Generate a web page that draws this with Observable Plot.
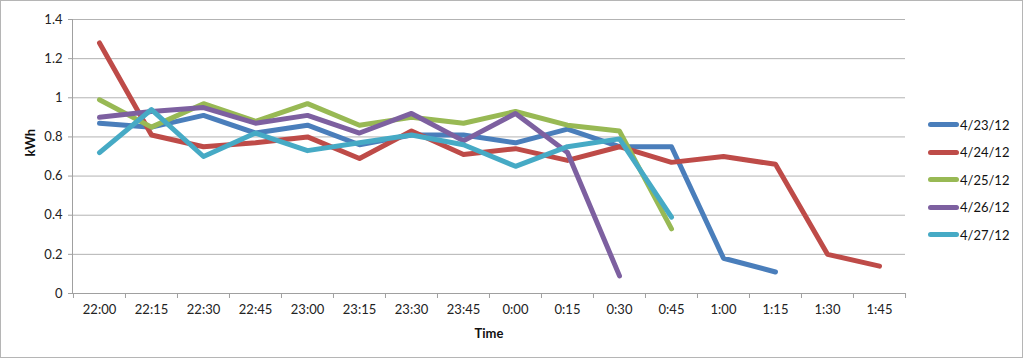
<!DOCTYPE html>
<html>
<head>
<meta charset="utf-8">
<script src="https://cdn.jsdelivr.net/npm/d3@7"></script>
<script src="https://cdn.jsdelivr.net/npm/@observablehq/plot@0.6"></script>
<style>
  body { margin: 0; background: #fff; }
  #wrap { position: relative; width: 1024px; height: 359px; font-family: Lato, "Open Sans", sans-serif; overflow: hidden; }
  #wrap svg { position: absolute; left: 0; top: 0; }
  #frame { position: absolute; left: 0; top: 0; width: 1021px; height: 356px; border: 1px solid #b5b5b5; pointer-events: none; }
  #legend { position: absolute; left: 928px; top: 111px; font-size: 13px; color: #111; }
  .item { display: flex; align-items: center; height: 27.5px; }
  .sw { width: 31px; height: 5px; border-radius: 3px; margin-right: 1px; }
</style>
</head>
<body>
<div id="wrap"><div id="frame"></div><div id="legend"></div></div>
<script>
const times = ["22:00","22:15","22:30","22:45","23:00","23:15","23:30","23:45","0:00","0:15","0:30","0:45","1:00","1:15","1:30","1:45"];
const seriesNames = ["4/23/12","4/24/12","4/25/12","4/26/12","4/27/12"];
const kwh0423 = [0.87,0.85,0.91,0.82,0.86,0.76,0.81,0.81,0.77,0.84,0.75,0.75,0.18,0.11];
const kwh0424 = [1.28,0.81,0.75,0.77,0.80,0.69,0.83,0.71,0.74,0.68,0.75,0.67,0.70,0.66,0.20,0.14];
const kwh0425 = [0.99,0.85,0.97,0.88,0.97,0.86,0.90,0.87,0.93,0.86,0.83,0.33];
const kwh0426 = [0.90,0.93,0.95,0.87,0.91,0.82,0.92,0.78,0.92,0.72,0.09];
const kwh0427 = [0.72,0.94,0.70,0.82,0.73,0.77,0.81,0.76,0.65,0.75,0.79,0.39];
const yTicks = [0,0.2,0.4,0.6,0.8,1,1.2,1.4];
const colors = ["#4a7ebb","#be4b48","#98b954","#7d60a0","#46aac5"];

const seriesValues = [kwh0423,kwh0424,kwh0425,kwh0426,kwh0427];
const rows = seriesNames.flatMap((name, i) => seriesValues[i].map((v, j) => ({time: times[j], kwh: v, series: name})));

const W = 1024, H = 359, ML = 72, MR = 119, MT = 19, MB = 66;
const step = (W - ML - MR) / times.length;

const plot = Plot.plot({
  width: W, height: H,
  marginLeft: ML, marginRight: MR, marginTop: MT, marginBottom: MB,
  style: {fontFamily: "Lato, 'Open Sans', sans-serif", fontSize: "13px", color: "#222", background: "transparent"},
  x: {type: "point", domain: times, padding: 0.5, label: null},
  y: {domain: [0, 1.4], label: null},
  color: {domain: seriesNames, range: colors},
  marks: [
    Plot.gridY(yTicks, {stroke: "#b3b3b3", strokeOpacity: 1}),
    Plot.frame({anchor: "left", stroke: "#a0a0a0"}),
    Plot.ruleY([0], {stroke: "#a0a0a0"}),
    Plot.axisY(yTicks, {tickFormat: d => String(d), tickSize: 4, tickPadding: 6, stroke: "#a0a0a0", fill: "#222", fontSize: 13, label: null}),
    Plot.axisX({tickSize: 0, tickPadding: 11, fill: "#222", fontSize: 13, label: null}),
    Plot.axisX(times, {tickSize: 5, tickFormat: null, dx: -step / 2, stroke: "#a0a0a0", label: null}),
    Plot.axisX([times[times.length - 1]], {tickSize: 5, tickFormat: null, dx: step / 2, stroke: "#a0a0a0", label: null}),
    Plot.line(rows, {x: "time", y: "kwh", z: "series", stroke: "series", strokeWidth: 5, strokeLinejoin: "round", strokeLinecap: "round"}),
    Plot.text(["Time"], {frameAnchor: "bottom", dy: 44, fontWeight: "bold", fontSize: 13, fill: "#111"}),
    Plot.text(["kWh"], {frameAnchor: "left", dx: -42, rotate: -90, fontWeight: "bold", fontSize: 13, fill: "#111"})
  ]
});
const wrap = document.getElementById("wrap");
wrap.insertBefore(plot, wrap.firstChild);

const legend = document.getElementById("legend");
seriesNames.forEach((name, i) => {
  const item = document.createElement("div");
  item.className = "item";
  const sw = document.createElement("span");
  sw.className = "sw";
  sw.style.background = colors[i];
  const label = document.createElement("span");
  label.textContent = name;
  item.appendChild(sw);
  item.appendChild(label);
  legend.appendChild(item);
});
</script>
</body>
</html>
